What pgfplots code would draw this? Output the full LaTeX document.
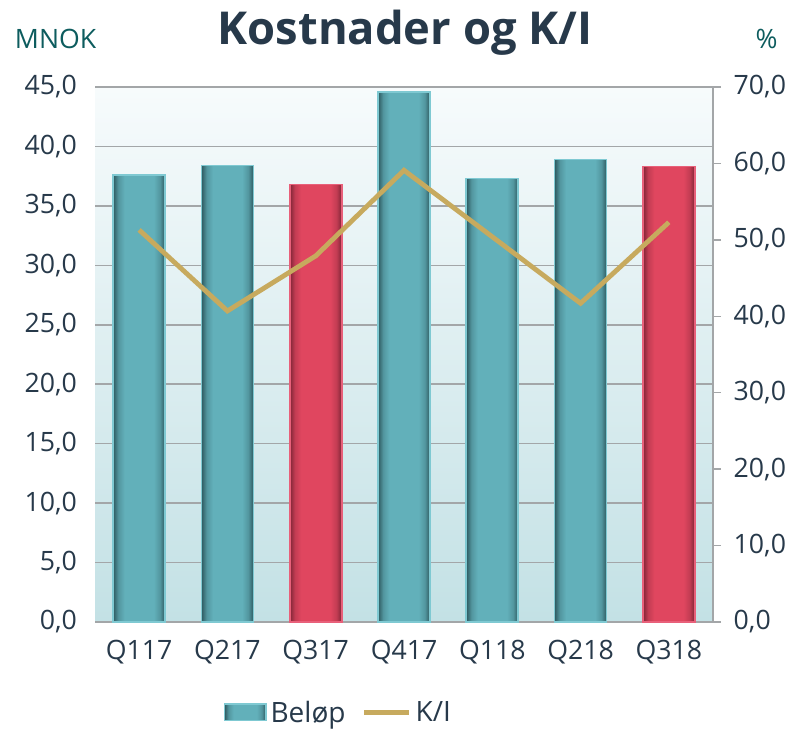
\documentclass[border=0pt]{standalone}
\usepackage{fontspec}
\setmainfont{Open Sans}
\usepackage{pgfplots}
\usepackage{pgfplotstable}
\pgfplotsset{compat=1.18}

\definecolor{txt}{HTML}{27394A}
\definecolor{unit}{HTML}{0D5C5E}
\definecolor{tealbar}{HTML}{62B0BA}
\definecolor{tealedge}{HTML}{7FC9D2}
\definecolor{tealdark}{HTML}{2E5A60}
\definecolor{redbar}{HTML}{E0465F}
\definecolor{rededge}{HTML}{E8607A}
\definecolor{reddark}{HTML}{7E2536}
\definecolor{kigold}{HTML}{C7AA5E}
\definecolor{gridgray}{HTML}{A3A6A8}
\definecolor{bgtop}{HTML}{F7FBFC}
\definecolor{bgbot}{HTML}{C3E1E5}

\pgfdeclarehorizontalshading{tealshade}{100bp}{color(0bp)=(tealdark); color(25bp)=(tealdark); color(30bp)=(tealbar!70!tealdark); color(36bp)=(tealbar); color(64bp)=(tealbar); color(70bp)=(tealbar!70!tealdark); color(75bp)=(tealdark); color(100bp)=(tealdark)}
\pgfdeclarehorizontalshading{redshade}{100bp}{color(0bp)=(reddark); color(25bp)=(reddark); color(30bp)=(redbar!70!reddark); color(36bp)=(redbar); color(64bp)=(redbar); color(70bp)=(redbar!70!reddark); color(75bp)=(reddark); color(100bp)=(reddark)}

\pgfplotstableread{
x ki
0 51.3
1 40.7
2 47.9
3 59.1
4 50.4
5 41.7
6 52.3
}\kitab

\pgfplotsset{
  tealb/.style={ybar, bar width=39pt, bar shift=0pt, draw=tealedge, line width=1.2pt, shade, shading=tealshade, forget plot},
  redb/.style={ybar, bar width=39pt, bar shift=0pt, draw=rededge, line width=1.2pt, shade, shading=redshade, forget plot},
}

\begin{document}
\begin{tikzpicture}
\path[use as bounding box] (0,0) rectangle (598.5pt,546.75pt);
\pgfplotsset{
  common/.style={
    at={(71.25pt,80.25pt)}, anchor=south west,
    width=463.5pt, height=401.25pt, scale only axis,
    xmin=-0.5, xmax=6.5,
    tick label style={font=\fontsize{20}{22}\selectfont, text=txt},
    /pgf/number format/.cd, fixed, fixed zerofill, precision=1, use comma, 1000 sep={}, assume math mode=true,
  }
}
\begin{axis}[common,
  ymin=0, ymax=45, ytick={0,5,...,45},
  xtick={0,...,6}, xticklabels={Q117,Q217,Q317,Q417,Q118,Q218,Q318},
  axis x line*=bottom, axis y line*=left,
  x axis line style={draw=gridgray, line width=1.1pt, -},
  y axis line style={draw=none},
  major tick length=0pt,
  xticklabel style={yshift=-10pt},
  yticklabel style={xshift=-10pt},
  ymajorgrids, grid style={draw=gridgray, line width=1.1pt},
  axis background/.style={top color=bgtop, bottom color=bgbot},
  legend style={at={(0.5,0)}, anchor=center, yshift=-68pt, xshift=-49pt, draw=none, fill=none,
    font=\fontsize{21}{23}\selectfont, text=txt, column sep=10pt,
    /tikz/every odd column/.style={column sep=1pt}},
  legend columns=2,
]
\addplot[tealb] coordinates {(0,37.6)};
\addplot[tealb] coordinates {(1,38.4)};
\addplot[redb]  coordinates {(2,36.8)};
\addplot[tealb] coordinates {(3,44.6)};
\addplot[tealb] coordinates {(4,37.3)};
\addplot[tealb] coordinates {(5,38.9)};
\addplot[redb]  coordinates {(6,38.3)};
\addlegendimage{legend image code/.code={\path[draw=tealedge, line width=1.2pt, shade, shading=tealshade] (0pt,-6pt) rectangle (31pt,6.5pt);}}
\addlegendentry{Beløp}
\addlegendimage{legend image code/.code={\draw[kigold, line width=3.6pt] (0pt,0pt) -- (34pt,0pt);}}
\addlegendentry{K/I}
\end{axis}
\begin{axis}[common,
  ymin=0, ymax=70, ytick={0,10,...,70},
  axis y line*=right, axis x line=none,
  y axis line style={draw=gridgray, line width=1.1pt, -},
  ytick style={draw=gridgray, line width=1.1pt},
  tick align=outside, major tick length=6pt,
  yticklabel style={xshift=6pt},
]
\addplot[kigold, line width=3.6pt, line join=miter] table[x=x, y=ki] {\kitab};
\end{axis}
\node[anchor=base, font=\fontsize{34}{36}\selectfont\bfseries, text=txt] at (303.75pt,513pt) {Kostnader og K/I};
\node[anchor=base west, inner sep=0pt, font=\fontsize{20}{22}\selectfont, text=unit] at (11pt,510pt) {MNOK};
\node[anchor=base, inner sep=0pt, font=\fontsize{20}{22}\selectfont, text=unit] at (575pt,510pt) {\%};
\end{tikzpicture}
\end{document}
